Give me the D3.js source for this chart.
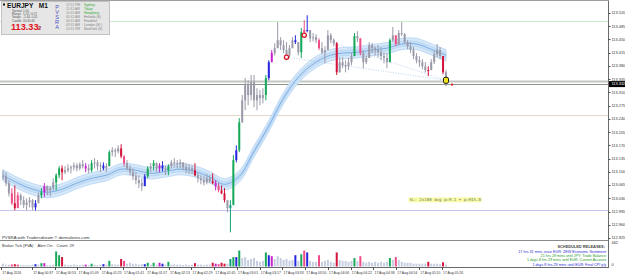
<!DOCTYPE html>
<html>
<head>
<meta charset="utf-8">
<script src="https://cdnjs.cloudflare.com/ajax/libs/d3/7.8.5/d3.min.js"></script>
<style>
  body { margin: 0; background: #fff; }
  svg { display: block; font-family: "Liberation Sans", Arial, sans-serif; }
</style>
</head>
<body>
<div id="chart"></div>
<script>
// EURJPY M1 bars (each drawn bar ~2 min at this zoom)
const highs = [113.104,113.099,113.078,113.057,113.064,113.046,113.043,113.035,113.030,113.033,
  113.028,113.025,113.046,113.057,113.070,113.064,113.062,113.083,113.096,113.115,
  113.117,113.115,113.120,113.117,113.125,113.123,113.125,113.131,113.123,113.120,
  113.131,113.136,113.131,113.125,113.125,113.123,113.157,113.165,113.162,113.170,
  113.173,113.144,113.131,113.117,113.109,113.099,113.091,113.083,113.094,113.115,
  113.123,113.131,113.125,113.123,113.128,113.117,113.120,113.131,113.136,113.131,
  113.133,113.125,113.123,113.120,113.117,113.123,113.099,113.091,113.088,113.094,
  113.091,113.096,113.078,113.070,113.064,113.057,113.025,113.025,113.144,113.170,
  113.242,113.303,113.348,113.342,113.356,113.356,113.321,113.316,113.321,113.356,
  113.395,113.422,113.440,113.496,113.456,113.448,113.443,113.435,113.456,113.461,
  113.443,113.480,113.501,113.514,113.475,113.467,113.464,113.453,113.443,113.432,
  113.475,113.467,113.453,113.443,113.403,113.403,113.395,113.401,113.414,113.467,
  113.472,113.453,113.422,113.408,113.443,113.440,113.432,113.435,113.430,113.416,
  113.414,113.453,113.483,113.461,113.475,113.496,113.467,113.448,113.443,113.430,
  113.414,113.406,113.398,113.390,113.379,113.398,113.419,113.438,113.430,113.406,
  113.369];
const lows = [113.078,113.062,113.035,113.012,112.998,113.004,113.012,113.004,112.998,113.006,
  112.998,112.998,113.017,113.030,113.033,113.038,113.035,113.051,113.051,113.083,
  113.078,113.094,113.099,113.096,113.104,113.101,113.104,113.109,113.099,113.096,
  113.099,113.109,113.104,113.099,113.104,113.099,113.115,113.141,113.139,113.149,
  113.136,113.115,113.104,113.091,113.078,113.067,113.057,113.049,113.067,113.083,
  113.099,113.104,113.099,113.099,113.101,113.091,113.091,113.109,113.112,113.109,
  113.109,113.104,113.096,113.094,113.094,113.088,113.072,113.067,113.064,113.067,
  113.070,113.067,113.051,113.046,113.041,113.019,112.993,112.940,113.012,113.125,
  113.152,113.229,113.263,113.276,113.289,113.271,113.263,113.276,113.281,113.289,
  113.342,113.390,113.408,113.427,113.422,113.414,113.395,113.403,113.427,113.438,
  113.408,113.401,113.459,113.469,113.443,113.445,113.440,113.422,113.411,113.387,
  113.422,113.440,113.432,113.356,113.363,113.374,113.363,113.369,113.382,113.406,
  113.443,113.408,113.374,113.385,113.401,113.414,113.408,113.403,113.395,113.387,
  113.374,113.390,113.443,113.432,113.435,113.459,113.438,113.424,113.414,113.398,
  113.387,113.377,113.371,113.363,113.353,113.369,113.385,113.403,113.398,113.358,
  113.326];
const closes = [113.088,113.070,113.043,113.017,113.004,113.038,113.025,113.012,113.019,113.025,
  113.006,113.017,113.038,113.046,113.062,113.051,113.057,113.072,113.091,113.109,
  113.099,113.104,113.109,113.112,113.117,113.109,113.120,113.115,113.109,113.104,
  113.123,113.125,113.115,113.117,113.109,113.115,113.152,113.157,113.154,113.162,
  113.141,113.123,113.109,113.099,113.088,113.078,113.070,113.062,113.088,113.109,
  113.115,113.123,113.109,113.117,113.109,113.104,113.115,113.125,113.123,113.120,
  113.125,113.112,113.107,113.109,113.104,113.091,113.083,113.078,113.072,113.083,
  113.075,113.070,113.062,113.051,113.043,113.025,113.004,113.012,113.131,113.157,
  113.231,113.289,113.329,113.303,113.337,113.289,113.303,113.295,113.303,113.348,
  113.390,113.414,113.427,113.448,113.435,113.422,113.408,113.427,113.448,113.443,
  113.416,113.469,113.475,113.475,113.453,113.456,113.448,113.427,113.416,113.422,
  113.461,113.448,113.440,113.363,113.390,113.382,113.379,113.390,113.406,113.459,
  113.453,113.414,113.390,113.401,113.435,113.427,113.422,113.416,113.406,113.401,
  113.390,113.448,113.461,113.438,113.467,113.464,113.443,113.432,113.422,113.406,
  113.395,113.390,113.379,113.369,113.369,113.390,113.411,113.422,113.406,113.363,
  113.329];
// PVSRA bar type: . normal, g/r climax, p/b/m/t rising volume
const barKinds = ("...prp.....b.gm...ggr.......m.g...b.g...rp......bg.g.mb.g........r....." +
  "rmprr.tgbg........gbm.......b.gpb...p.....r.....g.p.........g.p..........r....r.").split("");
const volumes = [55,37,37,40,46,37,28,28,28,28,37,46,37,65,65,28,28,37,296,222,
  185,37,28,28,37,28,28,37,37,28,55,37,28,37,46,37,111,46,37,37,
  148,111,55,74,55,55,37,46,46,74,37,74,37,74,55,37,92,37,46,37,
  37,28,37,28,37,65,37,37,28,37,37,74,55,46,74,55,55,148,185,185,
  314,166,185,130,148,166,111,92,111,277,222,203,148,203,166,130,148,111,130,222,
  111,240,314,277,111,92,92,222,92,111,130,92,74,277,130,111,111,92,111,166,
  111,203,92,74,92,74,92,74,92,74,92,166,130,185,130,92,74,74,74,55,
  55,55,55,55,92,55,55,55,46,83,37];
// moving-average channel centre, read at every 5th bar
const maBars = [0,5,10,15,20,25,30,35,40,45,50,55,60,65,70,75,80,85,90,95,100,105,110,115,120,125,130,135,140,145,150];
const maValues = [113.091,113.070,113.054,113.046,113.054,113.070,113.083,113.091,113.107,113.104,
  113.096,113.101,113.107,113.101,113.086,113.067,113.088,113.154,113.221,113.295,
  113.350,113.385,113.406,113.414,113.416,113.422,113.427,113.438,113.438,113.424,113.408];
const channelHalf = 0.015;

const priceTicks = [113.520,113.485,113.450,113.415,113.380,113.345,113.310,113.275,113.240,
  113.205,113.170,113.135,113.100,113.065,113.030,112.995,112.960,112.925];
const timeLabels = ["17 Aug 2016","17 Aug 00:37","17 Aug 00:53","17 Aug 01:09","17 Aug 01:25",
  "17 Aug 01:41","17 Aug 01:57","17 Aug 02:13","17 Aug 02:29","17 Aug 02:45","17 Aug 03:01",
  "17 Aug 03:17","17 Aug 03:33","17 Aug 03:50","17 Aug 04:06","17 Aug 04:22","17 Aug 04:38",
  "17 Aug 04:54","17 Aug 05:10","17 Aug 05:26"];
const timeLabelBars = [-0.7,9.8,17.5,25.2,33.0,40.6,48.4,56.1,63.8,71.5,79.2,86.9,94.6,102.3,
  110.0,117.7,125.4,133.1,140.9,148.6];

const levelPrices = [113.499, 113.341, 113.332, 113.250, 112.999];
const signalBars = [96, 102];
const signalPrices = [113.403, 113.461];
const trendFrom = [[96, 113.403], [112, 113.440]];
const trendTo = [150, 113.342];
const lastPrice = 113.332;
const volMax = 462;

const sessions = ["Sydney","Tokyo","Hongkong","Helsinki (S)","Frankfurt","London (S/-)","NewYork (S)"];
const sessionTimes = ["12:31 PM","11:31 AM","10:31 AM","05:31 AM","04:31 AM","03:31 AM","10:31 PM"];
const sessionOpen = [true,true,true,false,false,false,false];
const infoRows = [["Spread","1.00"],["Range","1.05 / 0.57"],["Swaps","-1.44, 0.41"],["Candle","00:00:40"]];
const releases = ["17 hrs 31 mins since EUR: ZEW Economic Sentiment",
  "21 hrs 29 mins until JPY: Trade Balance",
  "1 days 8 hrs 29 mins until EUR: Current Account",
  "1 days 8 hrs 29 mins until EUR: Final CPI y/y"];
const releaseKind = ["past","next","next","past"];

const W = 625, H = 276;
const axisX = 608;

const svg = d3.select("#chart").append("svg")
  .attr("width", W).attr("height", H).attr("viewBox", `0 0 ${W} ${H}`);

const x = d3.scaleLinear().domain([0, 150]).range([3, 446]);
const y = d3.scaleLinear().domain([113.52, 112.925]).range([13, 238]);
const yv = d3.scaleLinear().domain([0, volMax]).range([266.5, 243]);

const kindColor = { ".": "#9a9aaa", g: "#17a85a", r: "#d4143c", p: "#ee4d86", b: "#2626de", m: "#c424c8", t: "#14a07a" };
const volColor = Object.assign({}, kindColor, { ".": "#c5cde0" });

svg.append("rect").attr("width", W).attr("height", H).attr("fill", "#fff");

// main pane clip
svg.append("clipPath").attr("id", "mainclip")
  .append("rect").attr("x", 0).attr("y", 1).attr("width", axisX).attr("height", 239);
const main = svg.append("g").attr("clip-path", "url(#mainclip)");

// horizontal levels
const levelStyle = [
  { c: "#c9ecca", w: 1 },
  { c: "#c4c8c4", w: 2 },
  { c: "#8c948c", w: 1 },
  { c: "#e2dcc6", w: 1 },
  { c: "#c6c6f0", w: 1 }
];
main.selectAll("line.level").data(levelPrices).join("line")
  .attr("class", "level")
  .attr("x1", 0).attr("x2", axisX)
  .attr("y1", d => Math.round(y(d)) + 0.5).attr("y2", d => Math.round(y(d)) + 0.5)
  .attr("stroke", (d, i) => levelStyle[i].c)
  .attr("stroke-width", (d, i) => levelStyle[i].w);

// MA channel
const maPts = maBars.map((b, i) => [b, maValues[i]]);
const band = d3.area()
  .x(d => x(d[0]))
  .y0(d => y(d[1] - channelHalf))
  .y1(d => y(d[1] + channelHalf))
  .curve(d3.curveCatmullRom);
main.append("path").datum(maPts).attr("d", band)
  .attr("fill", "#d6e8f9").attr("stroke", "#aed0f2").attr("stroke-width", 0.7);
const inner = d3.area()
  .x(d => x(d[0]))
  .y0(d => y(d[1] - channelHalf * 0.45))
  .y1(d => y(d[1] + channelHalf * 0.45))
  .curve(d3.curveCatmullRom);
main.append("path").datum(maPts).attr("d", inner)
  .attr("fill", "#c8e0f6").attr("stroke", "#a4c9ef").attr("stroke-width", 0.5);
main.append("path").datum(maPts)
  .attr("d", d3.line().x(d => x(d[0])).y(d => y(d[1])).curve(d3.curveCatmullRom))
  .attr("fill", "none").attr("stroke", "#5b97de").attr("stroke-width", 0.7);

// dotted trend lines
main.selectAll("line.trend").data(trendFrom).join("line")
  .attr("class", "trend")
  .attr("x1", d => x(d[0])).attr("y1", d => y(d[1]))
  .attr("x2", x(trendTo[0])).attr("y2", y(trendTo[1]))
  .attr("stroke", "#9ec0ea").attr("stroke-width", 0.7).attr("stroke-dasharray", "1,1.5");

// candles
const bars = highs.map((h, i) => ({
  i, h, l: lows[i], c: closes[i], o: i === 0 ? closes[0] : closes[i - 1], k: barKinds[i]
}));
main.selectAll("line.wick").data(bars).join("line")
  .attr("class", "wick")
  .attr("x1", d => x(d.i)).attr("x2", d => x(d.i))
  .attr("y1", d => y(d.h)).attr("y2", d => y(d.l))
  .attr("stroke", d => kindColor[d.k]).attr("stroke-width", 1);
main.selectAll("rect.body").data(bars).join("rect")
  .attr("class", "body")
  .attr("x", d => x(d.i) - 1).attr("width", 2)
  .attr("y", d => y(Math.max(d.o, d.c)))
  .attr("height", d => Math.max(1, Math.abs(y(d.o) - y(d.c))))
  .attr("fill", d => kindColor[d.k]);

// signal markers
main.selectAll("circle.sig").data(signalBars).join("circle")
  .attr("class", "sig")
  .attr("cx", d => x(d)).attr("cy", (d, i) => y(signalPrices[i]))
  .attr("r", 2.1).attr("fill", "#fff").attr("stroke", "#d8101e").attr("stroke-width", 1.3);

// last-bar marker
main.append("rect")
  .attr("x", x(150) - 2.5).attr("y", y(trendTo[1]) - 3)
  .attr("width", 5).attr("height", 6).attr("rx", 1.5)
  .attr("fill", "#f2e21a").attr("stroke", "#202010").attr("stroke-width", 1);
main.append("rect")
  .attr("x", x(150) + 5).attr("y", y(lastPrice) - 0.5)
  .attr("width", 2).attr("height", 2).attr("fill", "#e8202a");

// SL text label
const slText = "SL: 2x100 avg p=9.1 + p=915.0";
const slG = main.append("g").attr("transform", `translate(${x(137.3)},${y(113.026)})`);
slG.append("rect").attr("x", 0).attr("y", -2.5).attr("width", 73).attr("height", 5).attr("fill", "#fbfbaa");
slG.append("text").attr("x", 1).attr("y", 1.6)
  .attr("font-family", "'DejaVu Sans Mono', monospace").attr("font-size", 4.1)
  .attr("fill", "#5e7a58").text(slText);

main.append("text").attr("x", 2).attr("y", 238.5)
  .attr("font-size", 4.3).attr("fill", "#333").text("PVSRA with Tradersdream \u00a9 donnaforex.com");

// info panel
const info = svg.append("g");
info.append("rect").attr("x", 1.5).attr("y", 1.5).attr("width", 108).attr("height", 33)
  .attr("fill", "#e6e6e6").attr("stroke", "#c2c2c2").attr("stroke-width", 1);
info.append("rect").attr("x", 3).attr("y", 3.5).attr("width", 2).attr("height", 2).attr("fill", "#111");
info.append("text").attr("x", 7).attr("y", 7.6).attr("font-size", 6.6).attr("font-weight", "bold")
  .attr("fill", "#111").attr("xml:space", "preserve").text("EURJPY   M1");
info.selectAll("text.row").data(infoRows).join("text")
  .attr("class", "row")
  .attr("y", (d, i) => 11.6 + i * 3.4)
  .attr("font-size", 3.0).attr("fill", "#555")
  .each(function (d) {
    d3.select(this).append("tspan").attr("x", 12).text(d[0]);
    d3.select(this).append("tspan").attr("x", 23).text(d[1]);
  });
info.append("text").attr("x", 11).attr("y", 29.8).attr("font-size", 9.2).attr("font-weight", "bold")
  .attr("fill", "#e0141c").text("113.33");
info.append("text").attr("x", 38).attr("y", 29.8).attr("font-size", 5.5).attr("font-weight", "bold")
  .attr("fill", "#a01018").text("2");
info.selectAll("text.pv").data("PVSRA".split("")).join("text")
  .attr("class", "pv")
  .attr("x", 57).attr("y", (d, i) => 8.6 + i * 5.2)
  .attr("text-anchor", "middle").attr("font-size", 5.6)
  .attr("fill", "#5050c4").text(d => d);
info.selectAll("text.tm").data(sessionTimes).join("text")
  .attr("class", "tm")
  .attr("x", 66).attr("y", (d, i) => 6.4 + i * 3.9)
  .attr("font-size", 3.3).attr("fill", "#8a8a8a").text(d => d);
info.selectAll("text.city").data(sessions).join("text")
  .attr("class", "city")
  .attr("x", 84).attr("y", (d, i) => 6.4 + i * 3.9)
  .attr("font-size", 3.3).attr("fill", (d, i) => sessionOpen[i] ? "#2ea82e" : "#7a7a7a").text(d => d);

// volume pane
svg.append("line").attr("x1", 0).attr("x2", axisX).attr("y1", 240.5).attr("y2", 240.5)
  .attr("stroke", "#8a8a8a").attr("stroke-width", 1);
svg.append("text").attr("x", 2).attr("y", 246.5).attr("font-size", 4).attr("fill", "#333")
  .attr("xml:space", "preserve").text("Broker Tick (FVA)    Alert On:   Count: 29");
svg.selectAll("rect.vol").data(volumes).join("rect")
  .attr("class", "vol")
  .attr("x", (d, i) => x(i) - 1).attr("width", 2)
  .attr("y", d => yv(d)).attr("height", d => yv(0) - yv(d))
  .attr("fill", (d, i) => volColor[barKinds[i]]);

svg.append("text").attr("x", 605).attr("y", 248.3).attr("text-anchor", "end")
  .attr("font-size", 3.9).attr("font-weight", "bold").attr("fill", "#444").text("SCHEDULED RELEASES:");
svg.selectAll("text.rel").data(releases).join("text")
  .attr("class", "rel")
  .attr("x", 606).attr("y", (d, i) => 253 + i * 4.2)
  .attr("text-anchor", "end").attr("font-size", 3.7)
  .attr("fill", (d, i) => releaseKind[i] === "past" ? "#2c2cd4" : "#1e9a1e").text(d => d);

// frame and axes
svg.append("line").attr("x1", axisX + 0.5).attr("x2", axisX + 0.5).attr("y1", 0).attr("y2", 268)
  .attr("stroke", "#6a6a6a");
svg.append("line").attr("x1", 0).attr("x2", axisX + 1).attr("y1", 0.5).attr("y2", 0.5)
  .attr("stroke", "#a0a0a0");
svg.append("line").attr("x1", 0).attr("x2", axisX + 1).attr("y1", 267.5).attr("y2", 267.5)
  .attr("stroke", "#6a6a6a");

const pAxis = svg.append("g");
pAxis.selectAll("line").data(priceTicks).join("line")
  .attr("x1", axisX).attr("x2", axisX + 2.5)
  .attr("y1", d => Math.round(y(d)) + 0.5).attr("y2", d => Math.round(y(d)) + 0.5)
  .attr("stroke", "#555");
pAxis.selectAll("text").data(priceTicks).join("text")
  .attr("x", axisX + 3.5).attr("y", d => y(d) + 1.4)
  .attr("font-size", 3.9).attr("fill", "#333").text(d => d.toFixed(3));

svg.append("rect").attr("x", axisX + 1).attr("y", y(lastPrice) - 3)
  .attr("width", W - axisX - 1).attr("height", 6).attr("fill", "#000");
svg.append("text").attr("x", axisX + 3.5).attr("y", y(lastPrice) + 1.4)
  .attr("font-size", 3.9).attr("fill", "#fff").text(lastPrice.toFixed(3));

svg.append("text").attr("x", axisX + 3.5).attr("y", yv(volMax) + 0.6)
  .attr("font-size", 3.9).attr("fill", "#333").text(volMax);
svg.append("text").attr("x", axisX + 3.5).attr("y", yv(0) - 0.6)
  .attr("font-size", 3.9).attr("fill", "#333").text("0");

const tAxis = svg.append("g");
tAxis.selectAll("line").data(timeLabelBars).join("line")
  .attr("x1", d => Math.round(x(d)) + 0.5).attr("x2", d => Math.round(x(d)) + 0.5)
  .attr("y1", 267).attr("y2", 270).attr("stroke", "#555");
tAxis.selectAll("text").data(timeLabels).join("text")
  .attr("x", (d, i) => x(timeLabelBars[i]) + 1.2).attr("y", 273.6)
  .attr("font-size", 3.4).attr("fill", "#333").text(d => d);
</script>
</body>
</html>
